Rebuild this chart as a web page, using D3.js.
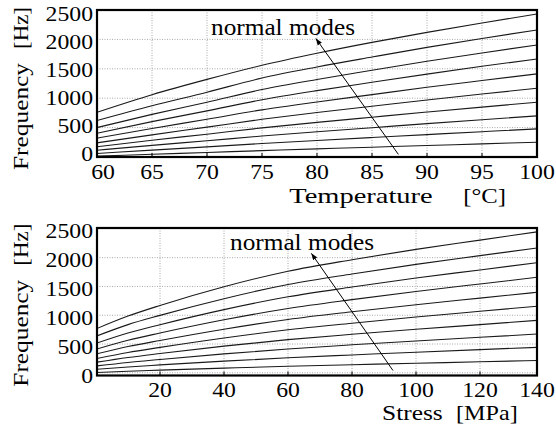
<!DOCTYPE html>
<html><head><meta charset="utf-8">
<script src="https://cdn.jsdelivr.net/npm/d3@7"></script>
<style>body{margin:0;background:#fff}svg{display:block}</style>
</head><body><svg id="c" width="556" height="429"></svg>
<script>
// ---------- data ----------
const tempX = [60, 65, 70, 75, 80, 85, 90, 95, 100];            // °C
const tempMode1  = [761, 1060, 1320, 1560, 1765, 1950, 2120, 2280, 2433];
const tempMode2  = [620, 871, 1102, 1343, 1531, 1700, 1864, 2016, 2161];
const tempMode3  = [500, 725, 932, 1147, 1318, 1474, 1628, 1770, 1906];
const tempMode4  = [405, 602, 785, 973, 1129, 1271, 1410, 1542, 1668];
const tempMode5  = [320, 486, 641, 802, 936, 1061, 1185, 1300, 1413];
const tempMode6  = [240, 377, 508, 641, 757, 863, 969, 1071, 1169];
const tempMode7  = [175, 285, 388, 495, 589, 677, 764, 849, 931];
const tempMode8  = [115, 197, 276, 357, 429, 498, 567, 634, 699];
const tempMode9  = [60, 117, 173, 229, 281, 331, 381, 430, 478];
const tempMode10 = [15, 46, 77, 108, 138, 167, 195, 223, 251];
const tempModes = [tempMode1, tempMode2, tempMode3, tempMode4, tempMode5,
                   tempMode6, tempMode7, tempMode8, tempMode9, tempMode10];

const stressX = [0, 10, 20, 40, 60, 80, 100, 120, 138];          // MPa
const stressMode1  = [762, 985, 1170, 1495, 1765, 1965, 2145, 2305, 2450];
const stressMode2  = [634, 837, 998, 1288, 1533, 1717, 1884, 2035, 2170];
const stressMode3  = [512, 692, 836, 1098, 1320, 1490, 1647, 1787, 1915];
const stressMode4  = [408, 565, 691, 921, 1118, 1272, 1413, 1544, 1660];
const stressMode5  = [326, 456, 562, 758, 926, 1060, 1183, 1297, 1400];
const stressMode6  = [245, 353, 441, 605, 747, 861, 969, 1069, 1158];
const stressMode7  = [182, 265, 335, 463, 576, 669, 756, 837, 911];
const stressMode8  = [118, 180, 231, 328, 414, 486, 553, 617, 674];
const stressMode9  = [61, 102, 137, 202, 261, 310, 358, 403, 443];
const stressMode10 = [5, 27, 46, 81, 113, 140, 166, 191, 214];
const stressModes = [stressMode1, stressMode2, stressMode3, stressMode4, stressMode5,
                     stressMode6, stressMode7, stressMode8, stressMode9, stressMode10];

const freqTicks = [0, 500, 1000, 1500, 2000, 2500];
const tempTicks = [60, 65, 70, 75, 80, 85, 90, 95, 100];
const stressTicks = [20, 40, 60, 80, 100, 120, 140];

const annotationText = "normal modes";
const tempArrow = {from: [87.4, 44], to: [79.9, 2014]};
const stressArrow = {from: [92.8, 40], to: [67.3, 2075]};

// ---------- drawing ----------
const FONT = "'Liberation Serif','Times New Roman',serif";
const svg = d3.select('#c');
const defs = svg.append('defs');
defs.append('marker').attr('id', 'ah')
  .attr('viewBox', '0 0 8 6').attr('refX', 8).attr('refY', 3)
  .attr('markerWidth', 7).attr('markerHeight', 5).attr('markerUnits', 'userSpaceOnUse')
  .attr('orient', 'auto')
  .append('path').attr('d', 'M0,0L8,3L0,6Z').attr('fill', '#000');

function txt(g, s, x, y, size, sx, anchor, rot) {
  return g.append('text')
    .attr('transform', `translate(${x},${y})` + (rot ? ` rotate(${rot})` : '') + ` scale(${sx},1)`)
    .attr('font-family', FONT).attr('font-size', size)
    .attr('text-anchor', anchor || 'start').attr('fill', '#000').text(s);
}
function fitTxt(g, s, x, y, size, len, rot) {
  return g.append('text')
    .attr('transform', `translate(${x},${y})` + (rot ? ` rotate(${rot})` : ''))
    .attr('font-family', FONT).attr('font-size', size)
    .attr('textLength', len).attr('lengthAdjust', 'spacingAndGlyphs')
    .attr('fill', '#000').text(s);
}

function panel(p, idx) {
  const g = svg.append('g');
  const clipId = 'clip' + idx;
  defs.append('clipPath').attr('id', clipId).append('rect')
    .attr('x', p.fx0).attr('y', p.fy0).attr('width', p.fx1 - p.fx0).attr('height', p.fy1 - p.fy0);

  // grid
  const grid = g.append('g').attr('stroke', '#a8a8a8').attr('stroke-width', 1)
    .attr('stroke-dasharray', '1,1.5');
  p.xTicks.filter(v => p.x(v) > p.fx0 + 2 && p.x(v) < p.fx1 - 2).forEach(v => {
    grid.append('line').attr('x1', p.x(v)).attr('x2', p.x(v)).attr('y1', p.fy0).attr('y2', p.fy1);
  });
  freqTicks.filter(v => p.y(v) > p.fy0 + 1 && p.y(v) < p.fy1 - 1).forEach(v => {
    grid.append('line').attr('x1', p.fx0).attr('x2', p.fx1).attr('y1', p.y(v)).attr('y2', p.y(v));
  });

  // curves
  const line = d3.line().x(d => p.x(d[0])).y(d => p.y(d[1])).curve(d3.curveMonotoneX);
  const cg = g.append('g').attr('clip-path', `url(#${clipId})`);
  p.modes.forEach(m => {
    cg.append('path').datum(p.xs.map((xv, i) => [xv, m[i]]))
      .attr('d', line).attr('fill', 'none').attr('stroke', '#1a1a1a').attr('stroke-width', 1.1);
  });

  // frame
  g.append('rect').attr('x', p.fx0).attr('y', p.fy0)
    .attr('width', p.fx1 - p.fx0).attr('height', p.fy1 - p.fy0)
    .attr('fill', 'none').attr('stroke', '#000').attr('stroke-width', 2.2);
  // inward ticks on bottom axis
  p.xTicks.filter(v => p.x(v) > p.fx0 + 2 && p.x(v) < p.fx1 - 2).forEach(v => {
    g.append('line').attr('x1', p.x(v)).attr('x2', p.x(v)).attr('y1', p.fy1).attr('y2', p.fy1 - 4)
      .attr('stroke', '#000').attr('stroke-width', 1);
  });

  // tick labels
  freqTicks.forEach(v => txt(g, String(v), 93, p.ylab(v) + 7, 21, 1.13, 'end'));
  p.xTicks.forEach(v => txt(g, String(v), p.x(v) + (p.xLabShift(v) || 0), p.xLabBase, 21, 1.13, 'middle'));

  // arrow + annotation
  g.append('line')
    .attr('x1', p.x(p.arrow.from[0])).attr('y1', p.y(p.arrow.from[1]))
    .attr('x2', p.x(p.arrow.to[0])).attr('y2', p.y(p.arrow.to[1]))
    .attr('stroke', '#000').attr('stroke-width', 1).attr('marker-end', 'url(#ah)');
  fitTxt(g, annotationText, p.annX, p.annY, 24, 144);

  // axis titles
  fitTxt(g, 'Frequency', 28, p.yTitleStart, 22, 107, -90);
  fitTxt(g, '[Hz]', 28, p.yTitleStart - p.yTitleGap, 22, 42, -90);
  p.xTitles.forEach(t => fitTxt(g, t.s, t.x, p.xTitleBase, 22, t.len));
}

// top panel: temperature
const tx = d3.scaleLinear().domain([60, 100]).range([97, 537]);
const ty = d3.scaleLinear().domain([0, 2500]).range([157, 10]);
panel({
  fx0: 97, fx1: 537, fy0: 10, fy1: 157,
  x: tx, y: ty, ylab: d3.scaleLinear().domain([0, 2500]).range([153.7, 13.7]),
  xs: tempX, modes: tempModes, xTicks: tempTicks,
  xLabShift: v => v === 60 ? 6 : 0, xLabBase: 178.5,
  arrow: tempArrow, annX: 211, annY: 35,
  yTitleStart: 170, yTitleGap: 121,
  xTitleBase: 203,
  xTitles: [{s: 'Temperature', x: 289.3, len: 143.4}, {s: '[°C]', x: 463.3, len: 42.7}]
}, 0);

// bottom panel: stress
const sx = d3.scaleLinear().domain([0, 140]).range([96, 544]);
const sy = d3.scaleLinear().domain([0, 2500]).range([372.8, 228.9]);
panel({
  fx0: 97, fx1: 537, fy0: 228, fy1: 375.5,
  x: sx, y: sy, ylab: d3.scaleLinear().domain([0, 2500]).range([375.8, 230.5]),
  xs: stressX, modes: stressModes, xTicks: stressTicks,
  xLabShift: v => v === 140 ? -7 : 0, xLabBase: 397,
  arrow: stressArrow, annX: 230, annY: 249.5,
  yTitleStart: 386.7, yTitleGap: 121,
  xTitleBase: 419.5,
  xTitles: [{s: 'Stress', x: 382, len: 60.7}, {s: '[MPa]', x: 456, len: 61.7}]
}, 1);
</script></body></html>
